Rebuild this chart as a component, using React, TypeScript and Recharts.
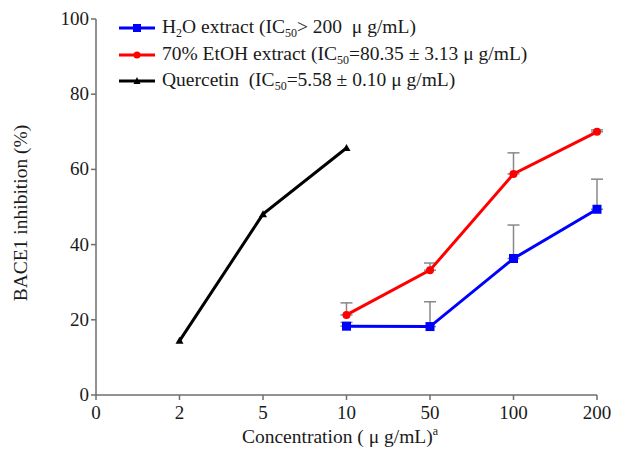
import { LineChart, Line, XAxis, YAxis, ErrorBar } from 'recharts';

const categories = ['0', '2', '5', '10', '50', '100', '200'];
const h2oValues = [null, null, null, 18.3, 18.2, 36.3, 49.4];
const h2oErrors = [null, null, null, 1.0, 6.6, 8.9, 8.0];
const etohValues = [null, null, null, 21.3, 33.2, 58.8, 70.0];
const etohErrors = [null, null, null, 3.2, 1.9, 5.6, 0.5];
const quercetinValues = [null, 14.4, 48.1, 65.7, null, null, null];
const yTicks = [0, 20, 40, 60, 80, 100];

const FONT = 'Liberation Serif';
const AXIS = '#6e6e6e';
const TEXT = '#1a1a1a';

const data = categories.map((c, i) => ({
  conc: c,
  h2o: h2oValues[i],
  h2oErr: h2oErrors[i] == null ? undefined : [0, h2oErrors[i]],
  etoh: etohValues[i],
  etohErr: etohErrors[i] == null ? undefined : [0, etohErrors[i]],
  quercetin: quercetinValues[i],
}));

const SquareDot = (props: any) => {
  const { cx, cy } = props;
  if (cx == null || cy == null || props.value == null) return null;
  return <rect x={cx - 4.5} y={cy - 4.5} width={9} height={9} fill="#0000ff" />;
};

const CircleDot = (props: any) => {
  const { cx, cy } = props;
  if (cx == null || cy == null || props.value == null) return null;
  return <circle cx={cx} cy={cy} r={4} fill="#ff0000" />;
};

const TriangleDot = (props: any) => {
  const { cx, cy } = props;
  if (cx == null || cy == null || props.value == null) return null;
  return <path d={`M${cx},${cy - 4}L${cx + 4},${cy + 3}L${cx - 4},${cy + 3}Z`} fill="#000" />;
};

const XTick = (props: any) => {
  const { x, y, payload } = props;
  return (
    <text x={x} y={y + 17} textAnchor="middle" fontFamily={FONT} fontSize={19} fill={TEXT}>
      {payload.value}
    </text>
  );
};

const YTick = (props: any) => {
  const { x, y, payload } = props;
  return (
    <text x={x} y={y + 6} textAnchor="end" fontFamily={FONT} fontSize={19} fill={TEXT}>
      {payload.value}
    </text>
  );
};

const subStyle = { fontSize: 12, verticalAlign: 'baseline', position: 'relative' as const, top: 4 };

const LEGEND_ROWS = [
  { color: '#0000ff', marker: 'square', label: <>H<span style={subStyle}>2</span>O extract (IC<span style={subStyle}>50</span>&gt; 200&nbsp;&nbsp;μ g/mL)</> },
  { color: '#ff0000', marker: 'circle', label: <>70% EtOH extract (IC<span style={subStyle}>50</span>=80.35 ± 3.13 μ g/mL)</> },
  { color: '#000000', marker: 'triangle', label: <>Quercetin&nbsp; (IC<span style={subStyle}>50</span>=5.58 ± 0.10 μ g/mL)</> },
];

function LegendBox() {
  return (
    <div
      style={{
        position: 'absolute',
        left: 119,
        top: 15,
        fontFamily: FONT,
        fontSize: 19.5,
        color: TEXT,
        lineHeight: '24.5px',
      }}
    >
      {LEGEND_ROWS.map((row, i) => (
        <div key={i} style={{ display: 'flex', alignItems: 'center', whiteSpace: 'nowrap' }}>
          <svg width={36} height={12} style={{ marginRight: 7 }}>
            <line x1={0} y1={6} x2={36} y2={6} stroke={row.color} strokeWidth={3} />
            {row.marker === 'square' && <rect x={14} y={2} width={8} height={8} fill={row.color} />}
            {row.marker === 'circle' && <circle cx={18} cy={6} r={3.5} fill={row.color} />}
            {row.marker === 'triangle' && <path d="M18,2L21.5,9L14.5,9Z" fill={row.color} />}
          </svg>
          <span>{row.label}</span>
        </div>
      ))}
    </div>
  );
}

const XLabel = () => (
  <text x={340} y={443} textAnchor="middle" fontFamily={FONT} fontSize={19.5} fill={TEXT}>
    Concentration ( μ g/mL)
    <tspan fontSize={12} dy={-8}>a</tspan>
  </text>
);

const YLabel = () => (
  <text
    x={27}
    y={213}
    transform="rotate(-90 27 213)"
    textAnchor="middle"
    fontFamily={FONT}
    fontSize={19.5}
    fill={TEXT}
  >
    BACE1 inhibition (%)
  </text>
);

export default function App() {
  return (
    <div style={{ position: 'absolute', left: 0, top: 0, width: 617, height: 460, background: '#fff', fontFamily: FONT }}>
      <LineChart
        width={617}
        height={460}
        data={data}
        margin={{ top: 19, right: 20, bottom: 25, left: 36 }}
      >
        <XAxis
          dataKey="conc"
          stroke={AXIS}
          strokeWidth={1.5}
          tickSize={5}
          tick={<XTick />}
          height={40}
          label={<XLabel />}
        />
        <YAxis
          domain={[0, 100]}
          ticks={yTicks}
          stroke={AXIS}
          strokeWidth={1.5}
          tickSize={5}
          tick={<YTick />}
          tickMargin={2}
          width={60}
          label={<YLabel />}
        />
        <Line
          dataKey="h2o"
          stroke="#0000ff"
          strokeWidth={3}
          dot={<SquareDot />}
          activeDot={false}
          isAnimationActive={false}
        >
          <ErrorBar dataKey="h2oErr" direction="y" width={6} stroke="#888" strokeWidth={1.5} />
        </Line>
        <Line
          dataKey="etoh"
          stroke="#ff0000"
          strokeWidth={3}
          dot={<CircleDot />}
          activeDot={false}
          isAnimationActive={false}
        >
          <ErrorBar dataKey="etohErr" direction="y" width={6} stroke="#888" strokeWidth={1.5} />
        </Line>
        <Line
          dataKey="quercetin"
          stroke="#000"
          strokeWidth={3}
          dot={<TriangleDot />}
          activeDot={false}
          isAnimationActive={false}
        />
      </LineChart>
      <LegendBox />
    </div>
  );
}
